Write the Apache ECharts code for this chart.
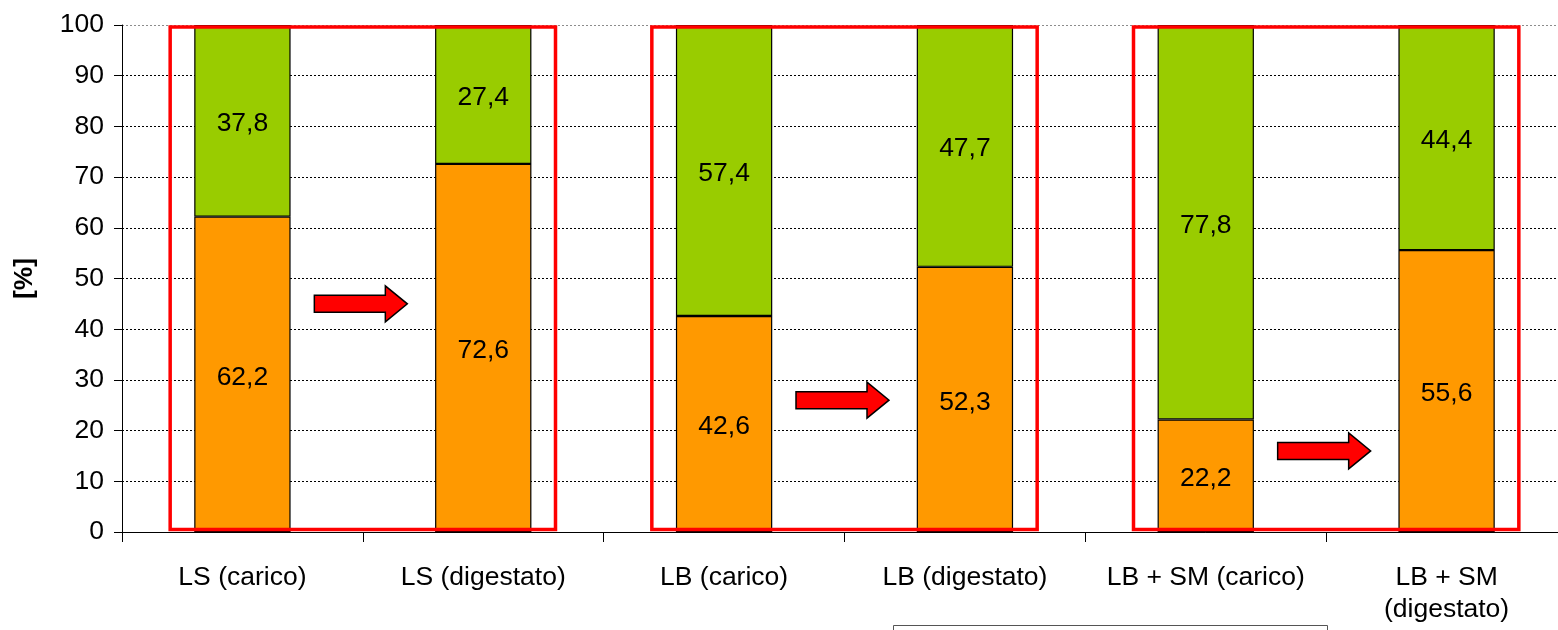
<!DOCTYPE html>
<html>
<head>
<meta charset="utf-8">
<script src="https://cdn.jsdelivr.net/npm/echarts@6/dist/echarts.min.js"></script>
<style>
  html, body { margin: 0; padding: 0; background: #ffffff; overflow: hidden; width: 1558px; height: 630px; }
  #chart { width: 1570px; height: 630px; }
</style>
</head>
<body>
<div id="chart"></div>
<script>
// Substrate categories (feed vs. digestate)
const categories = ['LS (carico)', 'LS (digestato)', 'LB (carico)', 'LB (digestato)', 'LB + SM (carico)', 'LB + SM\n(digestato)'];
// Stacked shares in percent
const orangeShare = [62.2, 72.6, 42.6, 52.3, 22.2, 55.6];
const greenShare = [37.8, 27.4, 57.4, 47.7, 77.8, 44.4];
const yTicks = [0, 10, 20, 30, 40, 50, 60, 70, 80, 90, 100];
// Highlight frames: [first category, last category]
const framePairs = [[0, 1], [2, 3], [4, 5]];
// Arrows between paired bars: [left category, height in %]
const arrowMarks = [[0, 45], [2, 26], [4, 16]];

const FONT = '"Liberation Sans", Arial, sans-serif';
const FS = 26.5;
const fmt = p => String(p.value).replace('.', ',');

const chart = echarts.init(document.getElementById('chart'), null, { renderer: 'canvas' });

function renderFrame(params, api) {
  const a = api.value(0), b = api.value(1);
  const band = api.size([1, 0])[0];
  const pA = api.coord([a, 0.5]);
  const pB = api.coord([b, 99.6]);
  const x0 = pA[0] - band * 0.3;
  const x1 = pB[0] + band * 0.3;
  return {
    type: 'rect',
    shape: { x: x0, y: pB[1], width: x1 - x0, height: pA[1] - pB[1] },
    style: { fill: 'none', stroke: '#ff0000', lineWidth: 3.5 }
  };
}

function renderArrow(params, api) {
  const c = api.value(0), v = api.value(1);
  const band = api.size([1, 0])[0];
  const p = api.coord([c, v]);
  const cx = p[0] + band / 2 - 2;
  const cy = p[1];
  const len = 93, head = 22, shaft = 8.5, hh = 18;
  const x0 = cx - len / 2, x1 = cx + len / 2, xh = x1 - head;
  return {
    type: 'polygon',
    shape: { points: [
      [x0, cy - shaft], [xh, cy - shaft], [xh, cy - hh], [x1, cy],
      [xh, cy + hh], [xh, cy + shaft], [x0, cy + shaft]
    ] },
    style: { fill: '#ff0000', stroke: '#000000', lineWidth: 1.5 }
  };
}

const gridColors = yTicks.map((t, i) => i === yTicks.length - 1 ? '#8c8c8c' : '#000000');

chart.setOption({
  animation: false,
  backgroundColor: '#ffffff',
  grid: { left: 122, top: 25, bottom: 98, right: 3, containLabel: false },
  xAxis: {
    type: 'category',
    data: categories,
    axisLine: { lineStyle: { color: '#000000', width: 1 } },
    axisTick: { show: true, length: 10, alignWithLabel: false, lineStyle: { color: '#000000' } },
    axisLabel: {
      interval: 0, color: '#000000', fontFamily: FONT, fontSize: FS,
      lineHeight: 32, margin: 30, verticalAlign: 'top'
    }
  },
  yAxis: {
    type: 'value',
    min: yTicks[0], max: yTicks[yTicks.length - 1], interval: 10,
    name: '[%]',
    nameLocation: 'middle',
    nameGap: 84,
    nameTextStyle: { color: '#000000', fontFamily: FONT, fontSize: FS, fontWeight: 'bold' },
    axisLine: { show: true, lineStyle: { color: '#000000', width: 1 } },
    axisTick: { show: true, length: 8, inside: false, lineStyle: { color: '#000000' } },
    axisLabel: { color: '#000000', fontFamily: FONT, fontSize: FS, margin: 18 },
    splitLine: { show: true, lineStyle: { color: gridColors, type: [2, 2], width: 1 } }
  },
  series: [
    {
      type: 'bar', stack: 'share', data: orangeShare, barWidth: '40%',
      itemStyle: { color: '#ff9900', borderColor: '#000000', borderWidth: 1.2 },
      label: { show: true, position: 'inside', offset: [0, 3], formatter: fmt, color: '#000000', fontFamily: FONT, fontSize: FS },
      z: 2
    },
    {
      type: 'bar', stack: 'share', data: greenShare, barWidth: '40%',
      itemStyle: { color: '#99cc00', borderColor: '#000000', borderWidth: 1.2 },
      label: { show: true, position: 'inside', offset: [0, 3], formatter: fmt, color: '#000000', fontFamily: FONT, fontSize: FS },
      z: 2
    },
    {
      type: 'custom', data: framePairs, renderItem: renderFrame,
      encode: { x: [0, 1] }, clip: false, silent: true, z: 5
    },
    {
      type: 'custom', data: arrowMarks, renderItem: renderArrow,
      encode: { x: 0, y: 1 }, clip: false, silent: true, z: 6
    }
  ],
  graphic: [
    {
      type: 'rect', left: 893, top: 625, silent: true,
      shape: { width: 434, height: 30 },
      style: { fill: '#ffffff', stroke: '#555555', lineWidth: 1 }
    }
  ]
});
</script>
</body>
</html>
